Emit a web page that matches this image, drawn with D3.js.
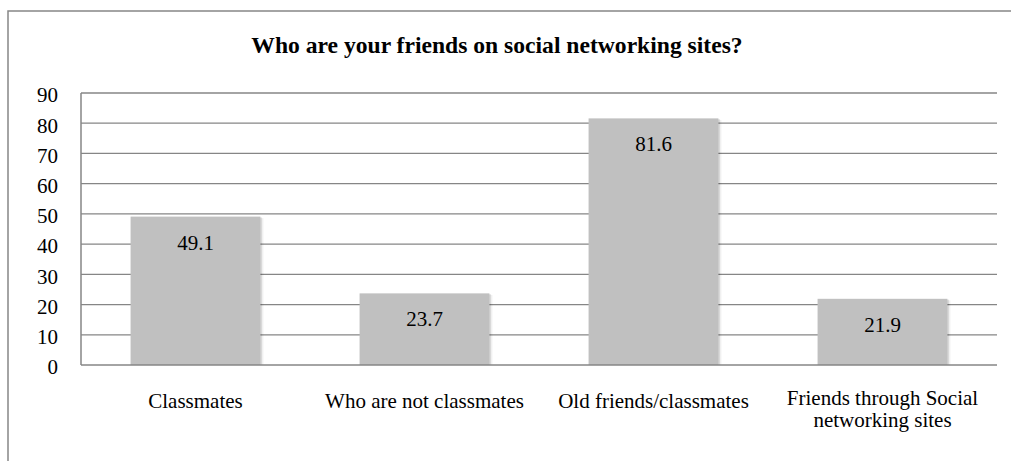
<!DOCTYPE html>
<html>
<head>
<meta charset="utf-8">
<script src="https://cdn.jsdelivr.net/npm/d3@7"></script>
<style>html,body{margin:0;background:#fff}</style>
</head>
<body>
<script>
const categories = [["Classmates"], ["Who are not classmates"], ["Old friends/classmates"], ["Friends through Social", "networking sites"]];
const values = [49.1, 23.7, 81.6, 21.9];
const yTicks = [0, 10, 20, 30, 40, 50, 60, 70, 80, 90];
const title = "Who are your friends on social networking sites?";

const W = 1011, H = 461;
const plot = { left: 81, right: 997, top: 93, bottom: 365 };
const FONT = '"Liberation Serif"';
const FS = 21;

const svg = d3.select("body").append("svg").attr("width", W).attr("height", H);

// outer chart border (extends beyond the image at right/bottom)
svg.append("rect").attr("x", 8).attr("y", 11).attr("width", W + 20).attr("height", H + 20)
  .attr("fill", "none").attr("stroke", "#878787").attr("stroke-width", 1.5);

const x = d3.scaleBand().domain(d3.range(categories.length)).range([plot.left, plot.right]).paddingInner(0.433).paddingOuter(0.2165);
const y = d3.scaleLinear().domain([0, 90]).range([plot.bottom, plot.top]);

// gridlines
svg.append("g").selectAll("line").data(yTicks.filter(d => d > 0)).join("line")
  .attr("x1", plot.left).attr("x2", plot.right)
  .attr("y1", d => y(d)).attr("y2", d => y(d))
  .attr("stroke", "#868686").attr("stroke-width", 1.3);

// bar shadows (soft, to the right)
const sh = svg.append("g");
[[1.5, 0.10], [3, 0.06]].forEach(([o, a]) => {
  sh.append("g").selectAll("rect").data(values).join("rect")
    .attr("x", (d, i) => x(i) + o).attr("width", x.bandwidth())
    .attr("y", d => y(d) + o / 2).attr("height", d => y(0) - y(d) - o / 2)
    .attr("fill", "#000").attr("fill-opacity", a);
});

// bars
svg.append("g").selectAll("rect").data(values).join("rect")
  .attr("x", (d, i) => x(i)).attr("width", x.bandwidth())
  .attr("y", d => y(d)).attr("height", d => y(0) - y(d))
  .attr("fill", "#c0c0c0");

// axis lines
svg.append("line").attr("x1", plot.left).attr("x2", plot.left).attr("y1", plot.top).attr("y2", plot.bottom)
  .attr("stroke", "#868686").attr("stroke-width", 1.5);
svg.append("line").attr("x1", plot.left).attr("x2", plot.right).attr("y1", plot.bottom).attr("y2", plot.bottom)
  .attr("stroke", "#868686").attr("stroke-width", 1.5);

// y tick labels
const yAxis = d3.axisLeft(y).tickValues(yTicks).tickSize(0).tickPadding(23);
const ga = svg.append("g").attr("transform", `translate(${plot.left},0)`).call(yAxis);
ga.attr("font-family", "Liberation Serif").attr("font-size", FS);
ga.select(".domain").remove();
ga.selectAll("text").attr("font-family", "Liberation Serif").style("font-family", FONT)
  .attr("font-size", FS).attr("fill", "#000").attr("dy", "0.42em");

// value labels
svg.selectAll("text.val").data(values).join("text").attr("class", "val")
  .attr("x", (d, i) => x(i) + x.bandwidth() / 2)
  .attr("y", d => y(d) + 33)
  .attr("text-anchor", "middle").attr("font-size", FS)
  .attr("font-family", "Liberation Serif").style("font-family", FONT)
  .text(d => d.toFixed(1));

// category labels
categories.forEach((lines, i) => {
  lines.forEach((line, j) => {
    svg.append("text")
      .attr("x", x(i) + x.bandwidth() / 2)
      .attr("y", (lines.length > 1 ? 405 : 408) + j * 22)
      .attr("text-anchor", "middle").attr("font-size", FS)
      .attr("font-family", "Liberation Serif").style("font-family", FONT)
      .text(line);
  });
});

// title
svg.append("text").attr("x", 497).attr("y", 53).attr("text-anchor", "middle")
  .attr("font-size", 23.6).attr("font-weight", "bold")
  .attr("font-family", "Liberation Serif").style("font-family", FONT).text(title);
</script>
</body>
</html>
